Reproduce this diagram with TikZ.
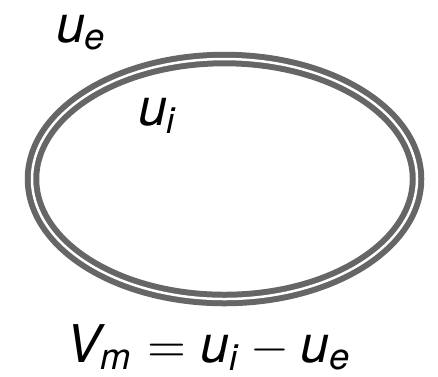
\documentclass[tikz,border=0pt]{standalone}
\usepackage{amsmath}
\usepackage{fontspec}
\setmainfont{TeX Gyre Heros}
\usetikzlibrary{positioning}

\newcommand{\pot}[2]{\textit{#1}_{\textit{#2}}}

\begin{document}
\begin{tikzpicture}[x=0.2pt, y=-0.2pt,
    membrane/.style={draw=black!60, line width=1.2pt, double=white, double distance=0.5pt},
    lbl/.style={inner sep=0pt, anchor=base west, font=\fontsize{10.4}{12}\selectfont}]
    \useasboundingbox (0,0) rectangle (438,376);
    % cell membrane
    \draw[membrane] (224.5,179) ellipse [x radius=192.5, y radius=120];
    % potentials
    \node[lbl] (ue) at (55,42) {$\pot{u}{e}$};
    \node[lbl] (ui) at (137,125) {$\pot{u}{i}$};
    \node[lbl] (vm) at (65,362) {$\pot{V}{m} = \pot{u}{i} - \pot{u}{e}$};
\end{tikzpicture}
\end{document}
